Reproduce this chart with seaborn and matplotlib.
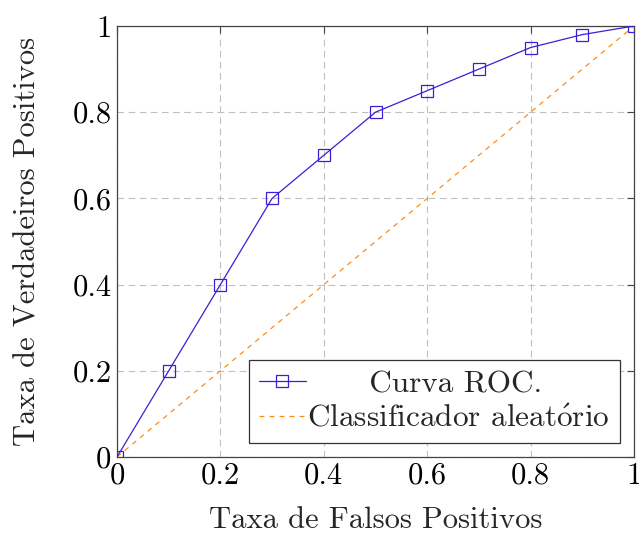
import matplotlib
matplotlib.use("Agg")
import matplotlib.pyplot as plt
import seaborn as sns
import pandas as pd

fpr = [0.0, 0.1, 0.2, 0.3, 0.4, 0.5, 0.6, 0.7, 0.8, 0.9, 1.0]
tpr = [0.0, 0.2, 0.4, 0.6, 0.7, 0.8, 0.85, 0.9, 0.95, 0.98, 1.0]
rand_x = [0.0, 1.0]
rand_y = [0.0, 1.0]
ticks = [0, 0.2, 0.4, 0.6, 0.8, 1]
tick_labels = ["0", "0.2", "0.4", "0.6", "0.8", "1"]
labels = ["      Curva ROC.", r"Classificador aleat$\acute{\mathrm{o}}$rio"]

sns.set_style("white")
plt.rcParams['font.family'] = ['cmr10', 'DejaVu Serif']
plt.rcParams['mathtext.fontset'] = 'cm'
plt.rcParams['axes.formatter.use_mathtext'] = True

fs = 22
fig = plt.figure(figsize=(6.39, 5.33), dpi=100)
ax = fig.add_axes([117/639, 1 - 457/533, (634-117)/639, (457-26)/533])

df = pd.DataFrame({"x": fpr, "y": tpr})
sns.lineplot(data=df, x="x", y="y", ax=ax, color="#3b1fd6", lw=0.9,
             marker="s", markersize=8, markerfacecolor="none",
             markeredgecolor="#3b1fd6", markeredgewidth=0.9,
             label=labels[0], zorder=3)
df2 = pd.DataFrame({"x": rand_x, "y": rand_y})
sns.lineplot(data=df2, x="x", y="y", ax=ax, color="#ff8c1a", lw=0.9,
             linestyle=(0, (4, 4)), label=labels[1], zorder=2)

ax.set_xlim(0, 1)
ax.set_ylim(0, 1)
ax.set_xticks(ticks)
ax.set_xticklabels(tick_labels)
ax.set_yticks(ticks)
ax.set_yticklabels(tick_labels)
ax.tick_params(axis='both', labelsize=fs, direction='in', length=5, width=0.8,
               top=True, right=True, colors='#444444', labelcolor='black', pad=4)
ax.grid(True, color='#c0c0c0', linestyle=(0, (6, 4)), lw=0.8)
for s in ax.spines.values():
    s.set_color('#444444')
    s.set_linewidth(0.9)

ax.set_xlabel("Taxa de Falsos Positivos", fontsize=fs, labelpad=12)
ax.set_ylabel("Taxa de Verdadeiros Positivos", fontsize=fs, labelpad=22)

leg = ax.legend(loc='lower right', fontsize=22.5, frameon=True, fancybox=False,
                edgecolor='#333333', framealpha=1, borderpad=0.32,
                handlelength=1.5, handletextpad=0.05, labelspacing=0.22,
                borderaxespad=0.45)
leg.get_frame().set_linewidth(0.9)

fig.savefig("out.png", dpi=100)
